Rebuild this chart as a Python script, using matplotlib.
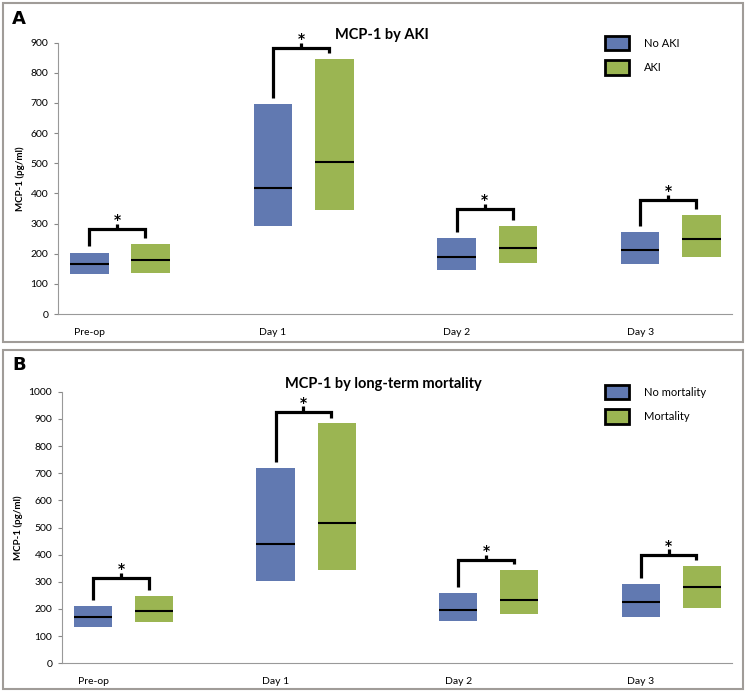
import matplotlib
matplotlib.use("Agg")
import matplotlib.pyplot as plt
from matplotlib.patches import Patch, Rectangle

plt.rcParams['font.family'] = ['Lato', 'DejaVu Sans']

days = ['Pre-op', 'Day 1', 'Day 2', 'Day 3']

# panel A: MCP-1 by AKI  (box = 25th-75th, line = median)
a_no_low = [132, 291, 146, 165]
a_no_med = [166, 418, 189, 213]
a_no_high = [204, 697, 252, 273]
a_yes_low = [136, 344, 169, 190]
a_yes_med = [179, 505, 219, 248]
a_yes_high = [232, 846, 293, 328]
a_bracket = [281, 881, 347, 378]

# panel B: MCP-1 by long-term mortality
b_no_low = [135, 302, 155, 172]
b_no_med = [172, 438, 196, 225]
b_no_high = [211, 719, 260, 292]
b_yes_low = [151, 342, 183, 202]
b_yes_med = [192, 517, 232, 281]
b_yes_high = [248, 883, 345, 357]
b_bracket = [313, 926, 380, 399]

BLUE = '#6179b1'
GREEN = '#9bb552'
OFFSET = 0.335
WIDTH = 0.21


def draw_panel(ax, lo1, md1, hi1, lo2, md2, hi2, brk, ymax, gap, title, labels):
    x = list(range(len(days)))
    x2 = [i + OFFSET for i in x]
    ax.bar(x, [h - l for h, l in zip(hi1, lo1)], bottom=lo1, width=WIDTH, color=BLUE)
    ax.bar(x2, [h - l for h, l in zip(hi2, lo2)], bottom=lo2, width=WIDTH, color=GREEN)
    ax.hlines(md1, [i - WIDTH / 2 for i in x], [i + WIDTH / 2 for i in x], color='black', lw=1.5)
    ax.hlines(md2, [i - WIDTH / 2 for i in x2], [i + WIDTH / 2 for i in x2], color='black', lw=1.5)

    for i in x:
        b = brk[i]
        xl, xr = i, i + OFFSET - 0.03
        ax.plot([xl, xl, xr, xr], [hi1[i] + gap, b, b, hi2[i] + gap],
                color='black', lw=2.3, solid_joinstyle='miter', solid_capstyle='butt')
        xm = (xl + xr) / 2
        ax.plot([xm, xm], [b, b + ymax * 0.02], color='black', lw=2.3, solid_capstyle='butt')
        ax.text(xm, b + ymax * 0.008, '*', ha='center', va='bottom', fontsize=10,
                fontweight='bold', family='DejaVu Sans')

    ax.set_xlim(-0.17, 3.5)
    ax.set_ylim(0, ymax)
    ax.set_yticks(range(0, ymax + 1, 100))
    ax.set_xticks(x)
    ax.set_xticklabels(days, fontsize=7.5)
    ax.tick_params(axis='x', length=0, pad=10)
    ax.tick_params(axis='y', labelsize=7.5, length=3, color='#888888', direction='out', pad=4)
    ax.spines['top'].set_visible(False)
    ax.spines['right'].set_visible(False)
    ax.spines['left'].set_color('#999999')
    ax.spines['bottom'].set_color('#999999')
    ax.set_ylabel('MCP-1 (pg/ml)', fontsize=7, fontweight='bold', labelpad=4)
    ax.set_title(title, fontsize=10.5, fontweight='bold', pad=0, y=1.015, x=0.48)

    handles = [Patch(facecolor=BLUE, edgecolor='black', linewidth=2),
               Patch(facecolor=GREEN, edgecolor='black', linewidth=2)]
    ax.legend(handles, labels, loc='upper left', bbox_to_anchor=(0.808, 1.0),
              frameon=False, fontsize=8, handlelength=2.2, handleheight=1.6,
              labelspacing=0.9, handletextpad=1.3, borderpad=0, borderaxespad=0)


fig = plt.figure(figsize=(7.46, 6.92), dpi=100)

# panel frames
fig.patches.append(Rectangle((3 / 746, 1 - 342 / 692), 740 / 746, 339 / 692,
                             transform=fig.transFigure, fill=False, edgecolor='#a09c98', lw=1.5))
fig.patches.append(Rectangle((3 / 746, 1 - 689 / 692), 740 / 746, 339 / 692,
                             transform=fig.transFigure, fill=False, edgecolor='#a09c98', lw=1.5))

ax1 = fig.add_axes([58 / 746, 1 - 314 / 692, 674 / 746, 271.3 / 692])
draw_panel(ax1, a_no_low, a_no_med, a_no_high, a_yes_low, a_yes_med, a_yes_high,
           a_bracket, 900, 20, 'MCP-1 by AKI', ['No AKI', 'AKI'])
ax1.get_legend().set_bbox_to_anchor((605 / 746, 1 - 36 / 692), transform=fig.transFigure)

ax2 = fig.add_axes([62 / 746, 1 - 663.3 / 692, 670 / 746, 271.6 / 692])
draw_panel(ax2, b_no_low, b_no_med, b_no_high, b_yes_low, b_yes_med, b_yes_high,
           b_bracket, 1000, 22, 'MCP-1 by long-term mortality', ['No mortality', 'Mortality'])
ax2.get_legend().set_bbox_to_anchor((605 / 746, 1 - 385 / 692), transform=fig.transFigure)

fig.text(12 / 746, 1 - 19 / 692, 'A', fontsize=13, fontweight='bold', family='DejaVu Sans', va='center')
fig.text(12 / 746, 1 - 365 / 692, 'B', fontsize=13, fontweight='bold', family='DejaVu Sans', va='center')

fig.savefig('out.png', dpi=100)
